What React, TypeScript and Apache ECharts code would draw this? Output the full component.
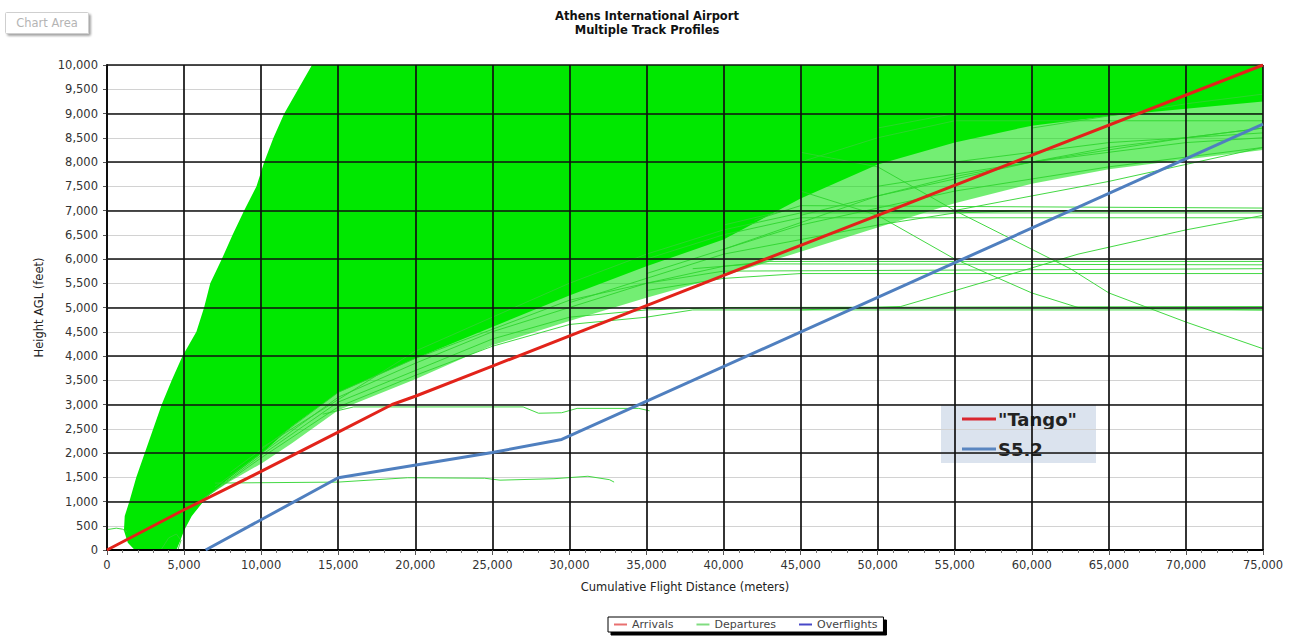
import React, { useEffect, useRef } from "react";
import * as echarts from "echarts";

// ---- data ----
const xMin = 0;
const xMax = 75000;
const xStep = 5000;
const yMin = 0;
const yMax = 10000;
const yStep = 500;

// "Tango" arrival profile (red)
const arrivalsTango: number[][] = [
  [0, 0], [5000, 830], [10000, 1620], [15000, 2430], [18500, 3000],
  [20000, 3170], [25000, 3790], [35000, 5040], [75000, 10000],
];

// S5.2 overflight profile (blue)
const overflightsS52: number[][] = [
  [6400, 0], [15000, 1490], [25000, 2010], [29500, 2280], [75000, 8780],
];

// outline of the dense mass of departure tracks (solid green)
const departureEnvelope: number[][] = [
  [1800, 0], [1350, 150], [1100, 400], [1150, 700], [1450, 1000], [1900, 1500],
  [2450, 2000], [3000, 2500], [3550, 3000], [4200, 3500], [4900, 4000],
  [5800, 4500], [6300, 5000], [6700, 5500], [7450, 6000], [8150, 6500],
  [8900, 7000], [9700, 7500], [10200, 8000], [10800, 8500], [11500, 9000],
  [12400, 9500], [13300, 10000],
  [75000, 10000], [75000, 9250], [70000, 9100], [65000, 8950], [60000, 8750],
  [55000, 8400], [50000, 7950], [45000, 7250], [40000, 6400], [35000, 5850],
  [30000, 5250], [25000, 4600], [20000, 3950], [15000, 3250], [12000, 2550],
  [10000, 1980], [8000, 1500], [6500, 1100], [5500, 700], [5000, 400],
  [4700, 150], [4500, 0],
];

// outline of the looser fringe of departure tracks (lighter green)
const departureFringe: number[][] = [
  [5500, 700], [6000, 1000], [8000, 1420], [10000, 1780], [12000, 2200],
  [15000, 2880], [20000, 3520], [25000, 4220], [30000, 4720], [35000, 5200],
  [40000, 5650], [45000, 6150], [50000, 6650], [55000, 7150], [60000, 7550],
  [65000, 7850], [70000, 8050], [75000, 8250], [75000, 9600], [60000, 9300],
  [50000, 8600], [40000, 7200], [30000, 5900], [20000, 4500], [10000, 2400],
  [6000, 1200],
];

// individual departure tracks outside the dense mass
const trackLevel5000a = [[6000, 1000], [10000, 1900], [15000, 2950], [20000, 3600], [25000, 4200], [30000, 4650], [35000, 4800], [38000, 4950], [75000, 4950]];
const trackLevel5000b = [[6200, 1050], [10000, 1950], [15000, 3050], [20000, 3700], [25000, 4350], [30000, 4800], [35000, 4950], [40000, 5000], [75000, 5020]];
const trackLevel6000a = [[7000, 1300], [15000, 3150], [20000, 3850], [25000, 4500], [30000, 5000], [35000, 5500], [40000, 5850], [43000, 5950], [75000, 5950]];
const trackLevel6000b = [[8000, 1600], [15000, 3250], [20000, 3950], [25000, 4550], [30000, 5150], [35000, 5500], [40000, 5750], [75000, 5800]];
const trackLevel6000c = [[38000, 5800], [42000, 5900], [75000, 5880]];
const trackLevel5700 = [[35000, 5350], [40000, 5600], [45000, 5700], [75000, 5700]];
const trackLevel7000a = [[10000, 2100], [20000, 4100], [30000, 5500], [35000, 6100], [40000, 6600], [45000, 6950], [75000, 6950]];
const trackLevel7000b = [[35000, 6000], [40000, 6500], [45000, 6850], [75000, 6850]];
const trackLevel7000c = [[42000, 6800], [45000, 7100], [75000, 7050]];
const trackLevel7000d = [[40000, 6700], [44000, 7000], [75000, 7000]];
const trackDescending = [[45000, 8200], [50000, 7900], [55000, 7000], [60000, 6200], [62500, 5800], [65000, 5300], [70000, 4700], [75000, 4150]];
const trackDescending2 = [[45000, 7400], [50000, 6900], [55000, 6000], [60000, 5300], [63000, 5000], [75000, 4950]];
const trackRising = [[45000, 4950], [51500, 5020], [57500, 5580], [63000, 6100], [70000, 6600], [75000, 6900]];
const trackLevel8900 = [[45000, 8000], [50000, 8500], [55000, 8850], [75000, 8850]];
const trackLevel9000 = [[50000, 8700], [55000, 9000], [75000, 9000]];
const trackUpper1 = [[55000, 7000], [65000, 7600], [75000, 8300]];
const trackUpper2 = [[50000, 7500], [60000, 8000], [70000, 8500], [75000, 8700]];
const trackUpper3 = [[55000, 8000], [65000, 8400], [75000, 8600]];
const trackUpper4 = [[60000, 8700], [70000, 9200], [75000, 9400]];
const trackMid1 = [[30000, 5100], [40000, 6100], [50000, 6700], [55000, 6950], [60000, 7000]];
const trackMid2 = [[35000, 5700], [45000, 6700], [55000, 7400], [65000, 7900], [75000, 8300]];
const trackMid3 = [[40000, 6200], [50000, 7300], [60000, 8000], [70000, 8400], [75000, 8500]];
const trackMid4 = [[45000, 6900], [55000, 7700], [65000, 8300], [75000, 8700]];
const trackLevel3000 = [[14000, 2800], [16000, 2950], [27000, 2950], [28000, 2820], [29500, 2830], [30500, 2920], [34500, 2920], [35200, 2870]];
const trackLevel1400 = [[7000, 1380], [15000, 1400], [19500, 1490], [24500, 1480], [25500, 1440], [29000, 1470], [31200, 1520], [32600, 1450], [32900, 1400]];
const trackStartLeft = [[0, 420], [600, 450], [1000, 430], [1300, 380]];
const trackLoopLow = [[3500, 0], [4000, 250], [4500, 330], [4800, 200], [4600, 0]];

const departureTracks = [
  trackLevel5000a, trackLevel5000b, trackLevel6000a, trackLevel6000b, trackLevel6000c,
  trackLevel5700, trackLevel7000a, trackLevel7000b, trackLevel7000c, trackLevel7000d,
  trackDescending, trackDescending2, trackRising, trackLevel8900, trackLevel9000,
  trackUpper1, trackUpper2, trackUpper3, trackUpper4, trackMid1, trackMid2, trackMid3,
  trackMid4, trackLevel3000, trackLevel1400, trackStartLeft, trackLoopLow,
];

const legendNames = ["Arrivals", "Departures", "Overflights"];
const insetNames = ['"Tango"', "S5.2"];

const FONT = "DejaVu Sans";
const FS = 11.5;
const fmt = (v: number) => v.toLocaleString("en-US");

export default function App() {
  const ref = useRef<HTMLDivElement>(null);

  useEffect(() => {
    document.body.style.margin = "0";
    const chart = echarts.init(ref.current!, null, { renderer: "svg" });

    const polygonSeries = (pts: number[][], fill: string, opacity: number, z: number) => ({
      type: "custom",
      name: legendNames[1],
      silent: true,
      z,
      data: [[0, 0]],
      itemStyle: { color: fill },
      renderItem: (_params: any, api: any) => ({
        type: "polygon",
        shape: { points: pts.map((p) => api.coord(p)) },
        style: { fill, opacity },
      }),
    });

    const trackSeries = departureTracks.map((t) => ({
      type: "line",
      name: legendNames[1],
      data: t,
      symbol: "none",
      showSymbol: false,
      silent: true,
      z: 1,
      lineStyle: { color: "#2fd42f", width: 1, opacity: 0.9 },
    }));

    const option: any = {
      animation: false,
      backgroundColor: "#ffffff",
      title: {
        text: "Athens International Airport",
        subtext: "Multiple Track Profiles",
        left: 642,
        textAlign: "center",
        top: 5,
        itemGap: 2,
        textStyle: { fontSize: FS, fontWeight: "bold", fontFamily: FONT, color: "#111" },
        subtextStyle: { fontSize: FS, fontWeight: "bold", fontFamily: FONT, color: "#111" },
      },
      grid: { left: 107, right: 29, top: 65, bottom: 90, show: false },
      legend: {
        left: 608,
        top: 617,
        orient: "horizontal",
        padding: [2, 6],
        itemGap: 23,
        itemWidth: 13,
        itemHeight: 2,
        icon: "rect",
        backgroundColor: "#ffffff",
        borderColor: "#000",
        borderWidth: 1,
        shadowColor: "#000",
        shadowOffsetX: 3,
        shadowOffsetY: 3,
        shadowBlur: 1,
        selectedMode: false,
        textStyle: { fontSize: 11, color: "#444", fontFamily: FONT },
        data: [
          { name: legendNames[0], itemStyle: { color: "#e87070" } },
          { name: legendNames[1], itemStyle: { color: "#80dc80" } },
          { name: legendNames[2], itemStyle: { color: "#4848c8" } },
        ],
      },
      xAxis: {
        type: "value",
        min: xMin,
        max: xMax,
        interval: xStep,
        z: 3,
        name: "Cumulative Flight Distance (meters)",
        nameLocation: "middle",
        nameGap: 31,
        nameTextStyle: { fontSize: FS, fontFamily: FONT, color: "#222" },
        axisLine: { show: true, onZero: false, lineStyle: { color: "#000", width: 2 } },
        axisTick: { show: true, length: 5, lineStyle: { color: "#555" } },
        minorTick: { show: true, splitNumber: 5, length: 3, lineStyle: { color: "#777" } },
        axisLabel: { fontSize: FS, fontFamily: FONT, color: "#333", margin: 9, formatter: fmt },
        splitLine: { show: true, lineStyle: { color: "#111", width: 1.7 } },
      },
      yAxis: [
        {
          type: "value",
          min: yMin,
          max: yMax,
          interval: yStep,
          z: 0,
          name: "Height AGL (feet)",
          nameLocation: "middle",
          nameGap: 62,
          nameTextStyle: { fontSize: FS, fontFamily: FONT, color: "#222" },
          axisLine: { show: true, onZero: false, lineStyle: { color: "#000", width: 2 } },
          axisTick: { show: true, length: 4, lineStyle: { color: "#555" } },
          axisLabel: { fontSize: FS, fontFamily: FONT, color: "#333", margin: 9, formatter: fmt },
          splitLine: { show: true, lineStyle: { color: "#d2d2d2", width: 1 } },
        },
        {
          type: "value",
          min: yMin,
          max: yMax,
          interval: 1000,
          position: "left",
          z: 3,
          axisLine: { show: false },
          axisTick: { show: false },
          axisLabel: { show: false },
          splitLine: { show: true, lineStyle: { color: "#111", width: 1.7 } },
        },
      ],
      series: [
        polygonSeries(departureFringe, "#00e000", 0.55, 1),
        polygonSeries(departureEnvelope, "#00e800", 1, 1),
        ...trackSeries,
        {
          type: "line",
          name: legendNames[0],
          data: arrivalsTango,
          symbol: "none",
          z: 4,
          lineStyle: { color: "#e2231a", width: 3 },
        },
        {
          type: "line",
          name: legendNames[2],
          data: overflightsS52,
          symbol: "none",
          z: 4,
          lineStyle: { color: "#4f7fbf", width: 3 },
        },
      ],
      graphic: [
        {
          type: "group",
          left: 5,
          top: 12,
          children: [
            {
              type: "rect",
              shape: { x: 0, y: 0, width: 83, height: 21, r: 1 },
              style: {
                fill: "#fff",
                stroke: "#cfcfcf",
                lineWidth: 1,
                shadowColor: "rgba(0,0,0,0.35)",
                shadowBlur: 2,
                shadowOffsetX: 2,
                shadowOffsetY: 2,
              },
            },
            {
              type: "text",
              x: 41.5,
              y: 10.5,
              style: {
                text: "Chart Area",
                font: `11.5px "${FONT}"`,
                fill: "#b4b4b4",
                align: "center",
                verticalAlign: "middle",
              },
            },
          ],
        },
        {
          type: "group",
          z: 10,
          children: [
            {
              type: "rect",
              shape: { x: 941, y: 404, width: 155, height: 59 },
              style: { fill: "#dbe3ee" },
            },
            {
              type: "line",
              shape: { x1: 962, y1: 419, x2: 996, y2: 419 },
              style: { stroke: "#d9262e", lineWidth: 3 },
            },
            {
              type: "text",
              x: 998,
              y: 419,
              style: {
                text: insetNames[0],
                font: `bold 18px "${FONT}"`,
                fill: "#222",
                verticalAlign: "middle",
              },
            },
            {
              type: "line",
              shape: { x1: 962, y1: 449, x2: 996, y2: 449 },
              style: { stroke: "#5a86c0", lineWidth: 3 },
            },
            {
              type: "text",
              x: 998,
              y: 449,
              style: {
                text: insetNames[1],
                font: `bold 18px "${FONT}"`,
                fill: "#222",
                verticalAlign: "middle",
              },
            },
          ],
        },
      ],
    };

    chart.setOption(option);
    return () => chart.dispose();
  }, []);

  return <div ref={ref} style={{ width: 1292, height: 640 }} />;
}
